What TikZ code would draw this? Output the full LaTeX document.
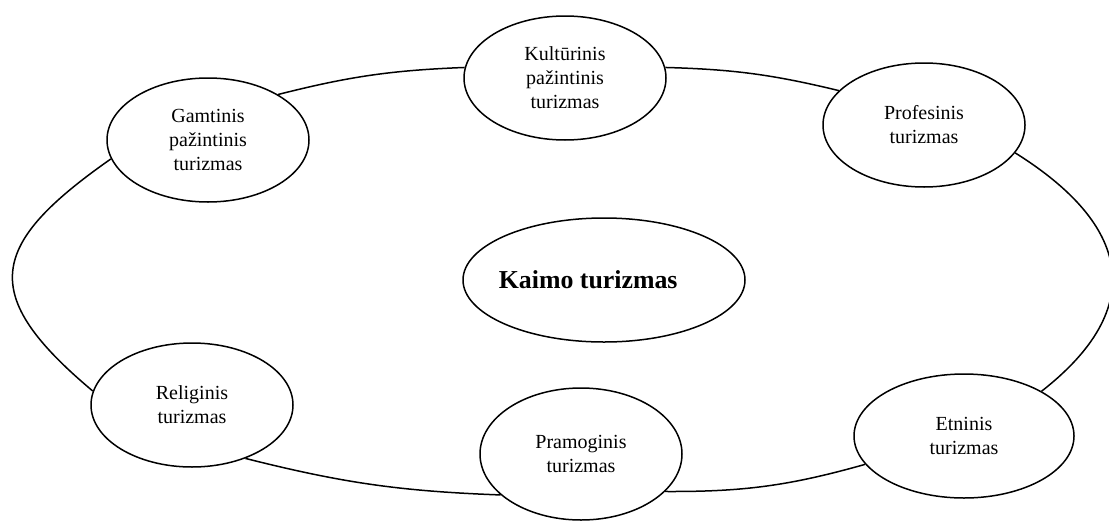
\documentclass[tikz,border=0pt]{standalone}
\usepackage{fontspec}
\setmainfont{Liberation Serif}
\usetikzlibrary{shapes.geometric}
\begin{document}
\begin{tikzpicture}[x=0.6pt,y=0.6pt,
    sritis/.style={draw,ellipse,line width=0.9pt,inner sep=0pt,minimum width=121.2pt,minimum height=74.4pt,align=center,font=\fontsize{12}{14.4}\selectfont},
    jungtis/.style={line width=0.9pt}]
            \useasboundingbox (0,0) rectangle (1109,-524);
            \node[sritis] (gamt) at (208,-140) {Gamtinis\\pažintinis\\turizmas};
            \node[sritis] (kult) at (565,-78) {Kultūrinis\\pažintinis\\turizmas};
            \node[sritis] (prof) at (924,-125) {Profesinis\\turizmas};
            \node[sritis,minimum width=169.2pt,font=\bfseries\fontsize{15.5}{18}\selectfont] (kaimo) at (604,-280) {\hspace*{-19pt}Kaimo turizmas};
            \node[sritis] (rel) at (192,-405) {Religinis\\turizmas};
            \node[sritis,minimum height=79.2pt] (pram) at (581,-454) {Pramoginis\\turizmas};
            \node[sritis,minimum width=132pt] (etn) at (964,-436) {Etninis\\turizmas};
            \draw[jungtis] (gamt.33) to[bend left=6] (kult.174);
            \draw[jungtis] (kult.6) to[bend left=6] (prof.158);
            \draw[jungtis] (prof.-17) to[out=-32,in=38,looseness=1.45] (etn.30);
            \draw[jungtis] (etn.-164) to[bend left=8] (pram.-24);
            \draw[jungtis] (pram.-153) to[bend left=6] (rel.-45);
            \draw[jungtis] (rel.172) to[out=140,in=-145,looseness=1.65] (gamt.-169);
        \end{tikzpicture}
\end{document}
